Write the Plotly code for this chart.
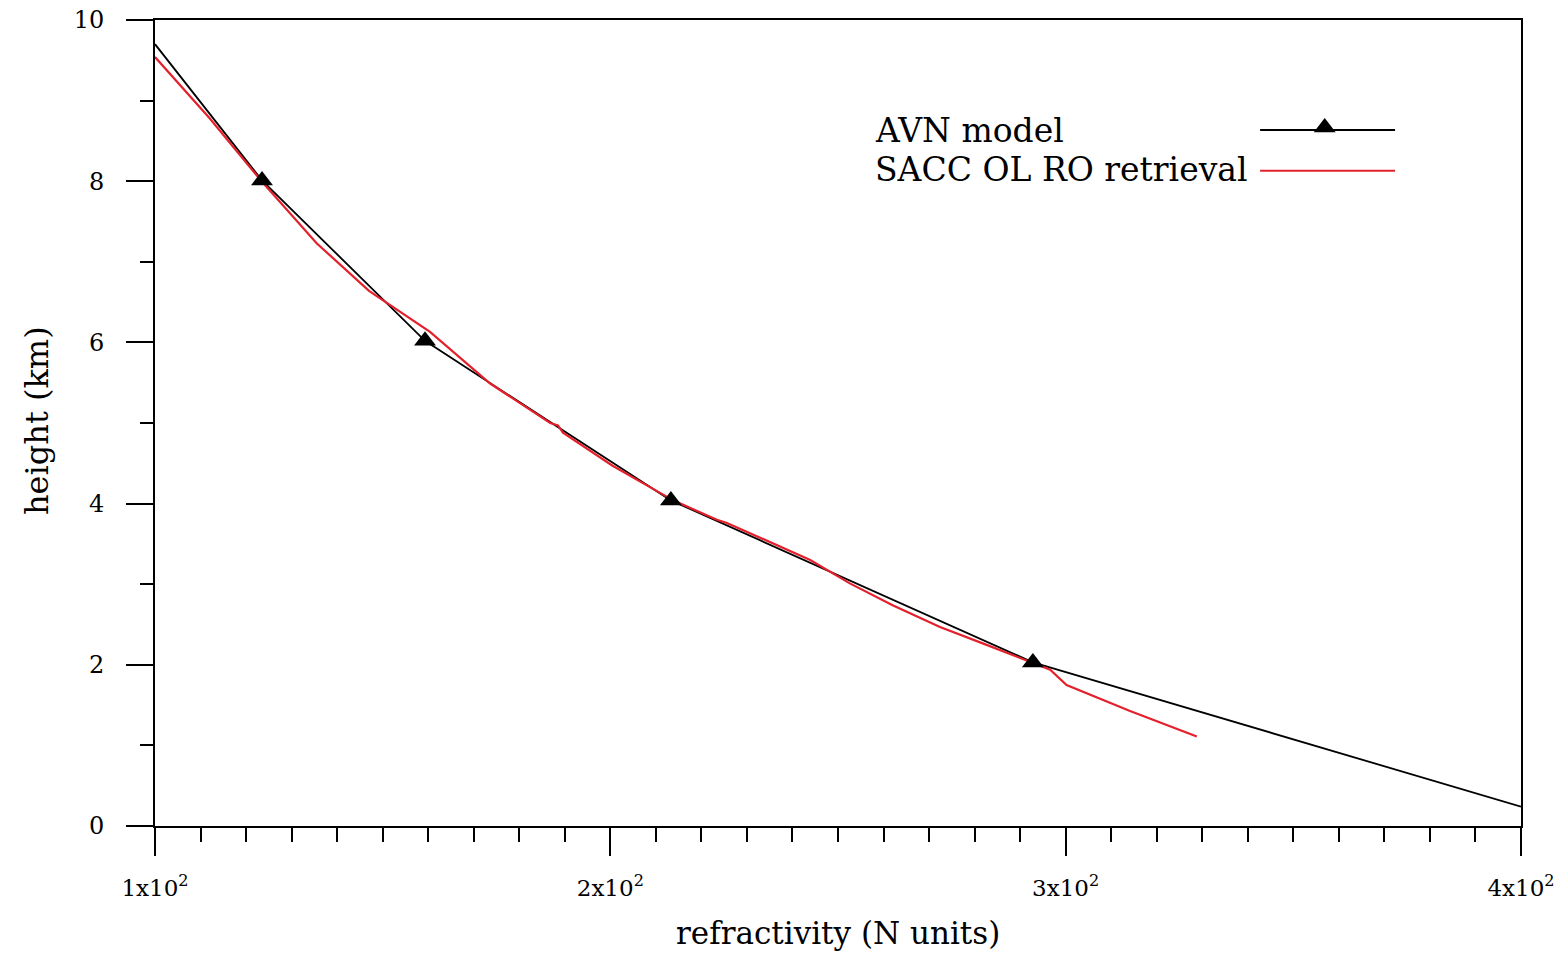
import plotly.graph_objects as go

# AVN model profile (refractivity N units, height km)
avn_n = [100.0, 123.5, 159.3, 213.3, 292.8, 400.0]
avn_h = [9.70, 8.01, 6.02, 4.04, 2.03, 0.24]
avn_marked = [False, True, True, True, True, False]

# SACC OL RO retrieval profile
ro_n = [100.0, 112.0, 123.7, 135.5, 147.0, 160.4, 173.6, 186.8, 188.5, 189.6,
        200.5, 213.8, 223.4, 225.6, 243.9, 252.6, 262.0, 272.4, 282.5, 292.8,
        296.6, 300.2, 314.0, 328.8]
ro_h = [9.54, 8.78, 7.98, 7.23, 6.64, 6.13, 5.49, 5.00, 4.97, 4.88,
        4.47, 4.04, 3.80, 3.76, 3.30, 3.01, 2.74, 2.47, 2.25, 2.02,
        1.94, 1.75, 1.43, 1.11]

series_names = ["AVN model", "SACC OL RO retrieval"]
x_title = "refractivity (N units)"
y_title = "height (km)"
x_tickvals = [100, 200, 300, 400]
x_ticktext = ["1x10<sup>2</sup>", "2x10<sup>2</sup>", "3x10<sup>2</sup>", "4x10<sup>2</sup>"]
y_tickvals = [0, 2, 4, 6, 8, 10]

FONT = "DejaVu Serif"
BLACK = "#000000"
RED = "#e3202b"

fig = go.Figure()

fig.add_trace(go.Scatter(
    x=avn_n, y=avn_h, mode="lines", name=series_names[0],
    line=dict(color=BLACK, width=1.8), showlegend=False))

fig.add_trace(go.Scatter(
    x=ro_n, y=ro_h, mode="lines", name=series_names[1],
    line=dict(color=RED, width=2.2), showlegend=False))

# AVN markers on top
fig.add_trace(go.Scatter(
    x=[n for n, m in zip(avn_n, avn_marked) if m],
    y=[h for h, m in zip(avn_h, avn_marked) if m],
    mode="markers", name=series_names[0],
    marker=dict(symbol="triangle-up", color=BLACK, size=19),
    showlegend=False))

# custom legend (text left, sample on right) drawn on an overlay paper-like axis
LEG_Y = [0.8635, 0.8139]
LEG_X = [0.809, 0.9078]
fig.add_trace(go.Scatter(x=LEG_X, y=[LEG_Y[0], LEG_Y[0]], mode="lines",
                         line=dict(color=BLACK, width=2), xaxis="x2", yaxis="y2",
                         showlegend=False, hoverinfo="skip"))
fig.add_trace(go.Scatter(x=[0.8563], y=[LEG_Y[0] + 0.003], mode="markers",
                         marker=dict(symbol="triangle-up", color=BLACK, size=19),
                         xaxis="x2", yaxis="y2", showlegend=False, hoverinfo="skip"))
fig.add_trace(go.Scatter(x=LEG_X, y=[LEG_Y[1] - 0.001, LEG_Y[1] - 0.001], mode="lines",
                         line=dict(color=RED, width=2), xaxis="x2", yaxis="y2",
                         showlegend=False, hoverinfo="skip"))

for name, yp in zip(series_names, LEG_Y):
    fig.add_annotation(x=0.5256, y=yp, xref="paper", yref="paper", text=name,
                       showarrow=False, xanchor="left", yanchor="middle",
                       font=dict(family=FONT, size=33, color=BLACK))

# axis titles
fig.add_annotation(x=0.5, y=-0.1328, xref="paper", yref="paper", text=x_title,
                   showarrow=False, xanchor="center", yanchor="middle",
                   font=dict(family=FONT, size=31, color=BLACK))
fig.add_annotation(x=-0.0864, y=0.5037, xref="paper", yref="paper", text=y_title,
                   showarrow=False, xanchor="center", yanchor="middle", textangle=-90,
                   font=dict(family=FONT, size=32, color=BLACK))

fig.update_layout(
    width=1567, height=954,
    margin=dict(l=155, r=46, t=20, b=128, autoexpand=False),
    paper_bgcolor="white", plot_bgcolor="white",
    font=dict(family=FONT, color=BLACK),
    xaxis=dict(range=[100, 400], tickvals=x_tickvals, ticktext=x_ticktext,
               ticks="outside", ticklen=28, tickwidth=2, tickcolor=BLACK,
               showline=True, linecolor=BLACK, linewidth=2, mirror=True,
               showgrid=False, zeroline=False, automargin=False,
               ticklabeloverflow="allow",
               tickfont=dict(family=FONT, size=23), ticklabelstandoff=12,
               minor=dict(dtick=10, ticks="outside", ticklen=14, tickwidth=2,
                          tickcolor=BLACK, showgrid=False)),
    yaxis=dict(range=[0, 10], tickvals=y_tickvals,
               ticks="outside", ticklen=27, tickwidth=2, tickcolor=BLACK,
               showline=True, linecolor=BLACK, linewidth=2, mirror=True,
               showgrid=False, zeroline=False, automargin=False,
               ticklabeloverflow="allow",
               tickfont=dict(family=FONT, size=24), ticklabelstandoff=17,
               minor=dict(dtick=1, ticks="outside", ticklen=13, tickwidth=2,
                          tickcolor=BLACK, showgrid=False)),
    xaxis2=dict(range=[0, 1], overlaying="x", visible=False, fixedrange=True),
    yaxis2=dict(range=[0, 1], overlaying="y", visible=False, fixedrange=True),
)

fig.write_html("out.html", config={"displayModeBar": False},
               post_script="document.body.style.margin='0px';document.body.style.overflow='hidden';")
